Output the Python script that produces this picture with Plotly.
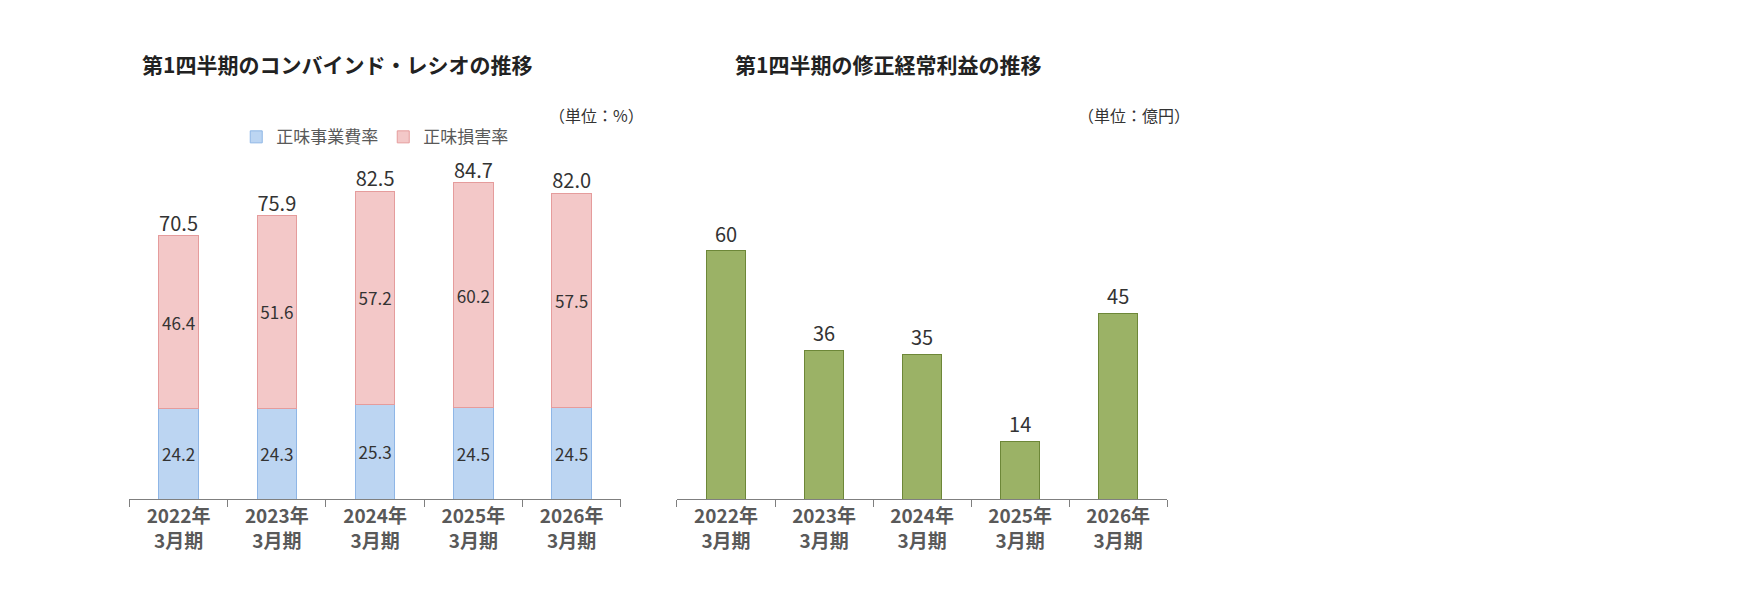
import plotly.graph_objects as go

years = ["2022年<br>3月期", "2023年<br>3月期", "2024年<br>3月期", "2025年<br>3月期", "2026年<br>3月期"]
expense_ratio = [24.2, 24.3, 25.3, 24.5, 24.5]
loss_ratio = [46.4, 51.6, 57.2, 60.2, 57.5]
combined_ratio = [70.5, 75.9, 82.5, 84.7, 82.0]
profit = [60, 36, 35, 14, 45]

W, H = 1754, 612
S = 1754 / 1560  # positions below were measured on a 1560-wide view
FONT = "Noto Sans CJK JP"
gray = "#595959"
dark = "#333333"


def px(v):
    return v * S / W


def py(v):
    return 1 - v * S / H


fs = lambda s: round(s * S)

fig = go.Figure()

fig.add_bar(x=years, y=expense_ratio, name="正味事業費率", width=0.4,
            marker=dict(color="#bcd5f2", line=dict(color="#8fb6e6", width=1)),
            text=[f"{v:.1f}" for v in expense_ratio], textposition="inside", textangle=0,
            insidetextanchor="middle", textfont=dict(size=fs(18), color=dark),
            xaxis="x", yaxis="y")
fig.add_bar(x=years, y=loss_ratio, name="正味損害率", width=0.4,
            marker=dict(color="#f3c8c8", line=dict(color="#e59c9c", width=1)),
            text=[f"{v:.1f}" for v in loss_ratio], textposition="inside", textangle=0,
            insidetextanchor="middle", textfont=dict(size=fs(18), color=dark),
            xaxis="x", yaxis="y")
fig.add_scatter(x=years, y=combined_ratio, mode="text",
                text=[f"{v:.1f}" for v in combined_ratio], textposition="top center",
                textfont=dict(size=fs(18), color=dark), showlegend=False,
                cliponaxis=False, xaxis="x", yaxis="y")

fig.add_bar(x=years, y=profit, width=0.4, showlegend=False,
            marker=dict(color="#9bb266", line=dict(color="#6d8738", width=1)),
            text=[str(v) for v in profit], textposition="outside", textangle=0,
            textfont=dict(size=fs(18), color=dark), cliponaxis=False,
            xaxis="x2", yaxis="y2")

ydom = [py(437), py(138)]
xcommon = dict(showline=True, linecolor="#7f7f7f", linewidth=1, ticks="outside",
               tickson="boundaries", ticklen=7, tickcolor="#7f7f7f",
               tickfont=dict(size=fs(17), color=gray, family=FONT), showgrid=False)
ycommon = dict(visible=False, showgrid=False, zeroline=False)

fig.update_layout(
    width=W, height=H, margin=dict(l=0, r=0, t=0, b=0),
    paper_bgcolor="white", plot_bgcolor="white",
    font=dict(family=FONT, color=gray),
    barmode="stack",
    xaxis=dict(domain=[px(108), px(545)], anchor="y", **xcommon),
    yaxis=dict(domain=ydom, range=[0, 90], **ycommon),
    xaxis2=dict(domain=[px(595), px(1031)], anchor="y2", **xcommon),
    yaxis2=dict(domain=ydom, range=[0, 81.2], **ycommon),
    legend=dict(orientation="h", x=px(203), y=py(115), xanchor="left", traceorder="normal",
                yanchor="middle", font=dict(size=fs(15), color=gray), itemwidth=30),
    annotations=[
        dict(text="<b>第1四半期のコンバインド・レシオの推移</b>", x=px(117), y=py(50),
             xref="paper", yref="paper", xanchor="left", yanchor="middle",
             showarrow=False, font=dict(size=fs(19), color="#222222")),
        dict(text="<b>第1四半期の修正経常利益の推移</b>", x=px(645), y=py(50),
             xref="paper", yref="paper", xanchor="left", yanchor="middle",
             showarrow=False, font=dict(size=fs(19), color="#222222")),
        dict(text="（単位：%）", x=px(567), y=py(95), xref="paper", yref="paper",
             xanchor="right", yanchor="middle", showarrow=False,
             font=dict(size=fs(14), color=dark)),
        dict(text="（単位：億円）", x=px(1053), y=py(95), xref="paper", yref="paper",
             xanchor="right", yanchor="middle", showarrow=False,
             font=dict(size=fs(14), color=dark)),
    ],
)
# bold two-line category labels
bold_years = [f"<b>{y.replace('<br>', '</b><br><b>')}</b>" for y in years]
fig.update_xaxes(tickmode="array", tickvals=years, ticktext=bold_years)

fig.write_html("out.html")
